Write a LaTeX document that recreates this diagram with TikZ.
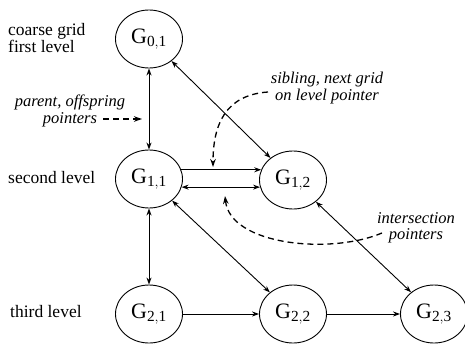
\documentclass[tikz,border=0pt]{standalone}
\usepackage{fontspec}
\setmainfont{Liberation Serif}
\usetikzlibrary{shapes.geometric,arrows.meta}
\begin{document}
\begin{tikzpicture}[x=1pt,y=-1pt,
  grid/.style={draw,ellipse,line width=0.9pt,inner sep=0pt,minimum width=67pt,minimum height=58pt,font=\fontsize{22}{22}\selectfont},
  lbl/.style={font=\fontsize{17.5}{16.5}\selectfont,inner sep=0pt},
  ilbl/.style={font=\fontsize{16.5}{16.5}\selectfont\itshape,inner sep=0pt,align=center},
  conn/.style={line width=0.9pt,-{Stealth[length=7pt,width=5pt]}},
  dconn/.style={line width=0.9pt,{Stealth[length=7pt,width=5pt]}-{Stealth[length=7pt,width=5pt]}},
  dsh/.style={line width=1.3pt,dash pattern=on 6pt off 4pt,-{Stealth[length=8pt,width=5.5pt]}}]
\useasboundingbox (0,0) rectangle (465,343);
\newcommand{\G}[2]{G$_{\mathrm{#1,#2}}$}
\node[grid] (G01) at (149,39) {\G{0}{1}};
\node[grid] (G11) at (149,179) {\G{1}{1}};
\node[grid] (G12) at (293,180) {\G{1}{2}};
\node[grid] (G21) at (149,314) {\G{2}{1}};
\node[grid] (G22) at (293,314) {\G{2}{2}};
\node[grid] (G23) at (434,314) {\G{2}{3}};
\node[lbl,align=left,anchor=west] (L1) at (8,38) {coarse grid\\first level};
\node[lbl,anchor=west] (L2) at (8,178) {second level};
\node[lbl,anchor=west] (L3) at (10,312) {third level};
\node[ilbl] (PO) at (70,111) {parent, offspring\\pointers};
\node[ilbl] (SN) at (327,88) {sibling, next grid\\on level pointer};
\node[ilbl] (IP) at (416,228) {intersection\\pointers};
% connectors
\draw[dconn] (G01) -- (G11);
\draw[dconn] (G11) -- (G21);
\draw[dconn] (G01) -- (G12);
\draw[dconn] (G11) -- (G22);
\draw[dconn] (G12) -- (G23);
\draw[conn] (G21) -- (G22);
\draw[conn] (G22) -- (G23);
\draw[conn] (G11.16) -- (G12.162 |- G11.16);
\draw[dconn] (G11.-14) -- (G12.192 |- G11.-14);
% dashed pointers
\coordinate (P0) at (103,119);
\coordinate (PA) at (142,119);
\draw[dsh] (P0) -- (PA);
\coordinate (SA) at (268,92);
\coordinate (SB) at (213,167);
\draw[dsh] (SA) .. controls (225,95) and (213,125) .. (SB);
\coordinate (IA) at (382,233);
\coordinate (IB) at (225,196);
\draw[dsh] (IA) .. controls (330,255) and (230,245) .. (IB);
\end{tikzpicture}
\end{document}
